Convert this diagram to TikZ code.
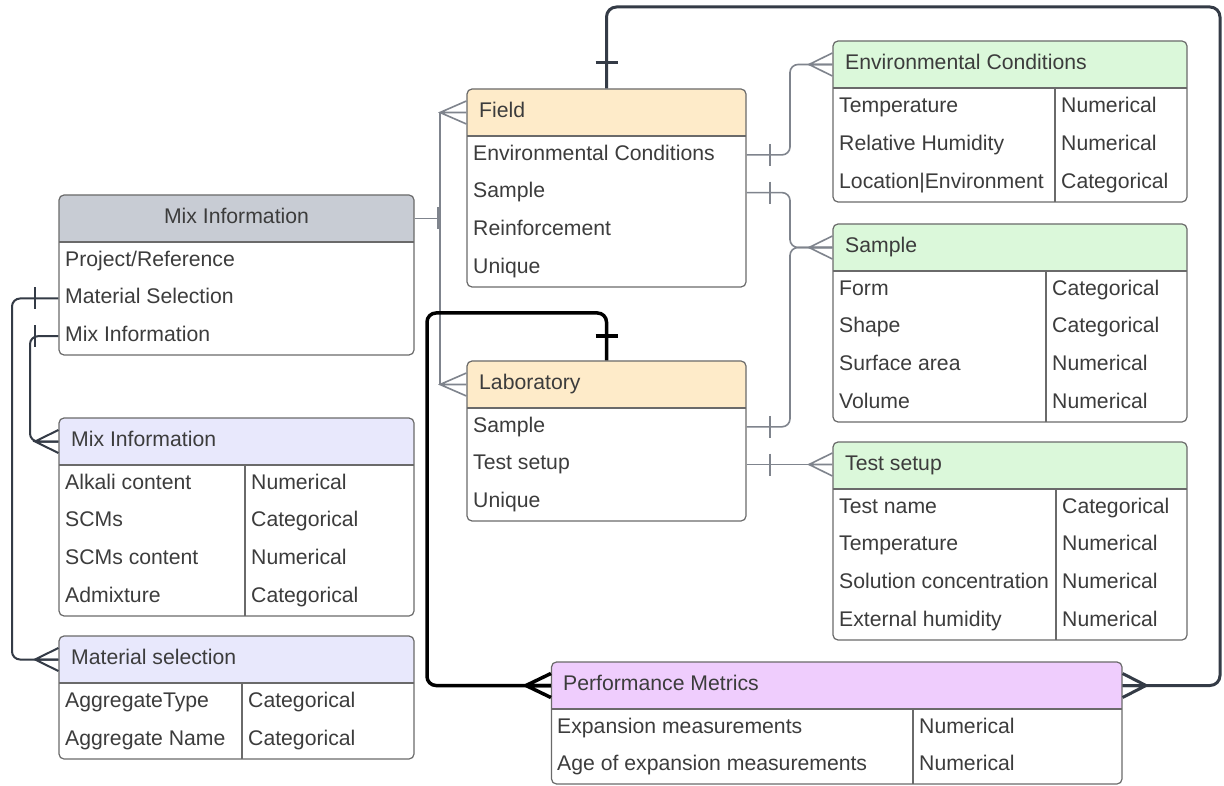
\documentclass[tikz,border=0pt]{standalone}
\usepackage{fontspec}
\setmainfont{Liberation Sans}
\usetikzlibrary{fit,calc}

\definecolor{txt}{HTML}{3C3C3C}
\definecolor{frame}{HTML}{6A6A6A}
\definecolor{hgray}{HTML}{C8CCD4}
\definecolor{hpeach}{HTML}{FEEBC9}
\definecolor{hgreen}{HTML}{DBF8DA}
\definecolor{hlav}{HTML}{E8E8FC}
\definecolor{hpurp}{HTML}{EFCDFD}
\definecolor{lgray}{HTML}{7F848D}
\definecolor{dslate}{HTML}{343B46}

\tikzset{
  erframe/.style={draw=frame, line width=1.2pt, rounded corners=5pt, inner sep=0pt},
  erline/.style={draw=frame, line width=1.2pt},
  cell/.style={anchor=west, inner sep=0pt, text height=15pt, text depth=4.5pt,
    text=txt, font=\fontsize{21.2}{25}\selectfont},
  lnkgray/.style={draw=lgray, line width=1.6pt, rounded corners=8pt},
  lnkdark/.style={draw=dslate, line width=2pt, rounded corners=8pt},
  lnktop/.style={draw=dslate, line width=3pt, rounded corners=10pt},
  lnkblk/.style={draw=black, line width=3.5pt, rounded corners=9pt},
}

% entity box: name, x1, y1, x2, header bottom, y2, header colour
\newcommand\erbox[7]{%
  \fill[#7, rounded corners=5pt] (#2,#3) rectangle (#4,#5);
  \fill[#7] (#2,#3+10) rectangle (#4,#5);
  \node[erframe, fit={(#2,#3) (#4,#6)}] (#1) {};
  \draw[erline] (#2,#5) -- (#4,#5);
}
% crow's foot: style, vertex, point on the box edge, half spread
\newcommand\crowfoot[4]{%
  \draw[#1, sharp corners] ($#3+(0,-#4)$) -- #2 -- ($#3+(0,#4)$) #2 -- #3;
}
% one-mark bars across a horizontal or a vertical line
\newcommand\vmark[2]{\draw[#1, sharp corners] ($#2+(0,-11)$) -- ($#2+(0,11)$);}
\newcommand\hmark[2]{\draw[#1, sharp corners] ($#2+(-11,0)$) -- ($#2+(11,0)$);}

\begin{document}
\begin{tikzpicture}[x=1pt, y=-1pt]
\useasboundingbox (0,0) rectangle (1224,786);
\fill[white] (0,0) rectangle (1224,786);

% ---------- entity boxes ----------
\erbox{mixmain}{59}{195}{414}{242}{355}{hgray}
\node[cell, anchor=center] (mm-t) at (236.5,218.5) {Mix Information};
\node[cell] (mm-1) at (65,260.8) {Project/Reference};
\node[cell] (mm-2) at (65,298.5) {Material Selection};
\node[cell] (mm-3) at (65,336.2) {Mix Information};

\erbox{field}{467}{89}{746}{136}{287}{hpeach}
\node[cell] (fld-t) at (479,112.5) {Field};
\node[cell] (fld-1) at (473,154.9) {Environmental Conditions};
\node[cell] (fld-2) at (473,192.6) {Sample};
\node[cell] (fld-3) at (473,230.4) {Reinforcement};
\node[cell] (fld-4) at (473,268.1) {Unique};

\erbox{lab}{467}{361}{746}{408}{521}{hpeach}
\node[cell] (lab-t) at (479,384.5) {Laboratory};
\node[cell] (lab-1) at (473,426.8) {Sample};
\node[cell] (lab-2) at (473,464.5) {Test setup};
\node[cell] (lab-3) at (473,502.2) {Unique};

\erbox{env}{833}{41}{1187}{88}{202}{hgreen}
\draw[erline] (1055,88) -- (1055,202);
\node[cell] (env-t) at (845,64.5) {Environmental Conditions};
\node[cell] (env-1) at (839,107) {Temperature};
\node[cell] (env-2) at (839,145) {Relative Humidity};
\node[cell] (env-3) at (839,183) {Location|Environment};
\node[cell] (env-1b) at (1061,107) {Numerical};
\node[cell] (env-2b) at (1061,145) {Numerical};
\node[cell] (env-3b) at (1061,183) {Categorical};

\erbox{sample}{833}{224}{1187}{271}{422}{hgreen}
\draw[erline] (1046,271) -- (1046,422);
\node[cell] (smp-t) at (845,247.5) {Sample};
\node[cell] (smp-1) at (839,289.9) {Form};
\node[cell] (smp-2) at (839,327.6) {Shape};
\node[cell] (smp-3) at (839,365.4) {Surface area};
\node[cell] (smp-4) at (839,403.1) {Volume};
\node[cell] (smp-1b) at (1052,289.9) {Categorical};
\node[cell] (smp-2b) at (1052,327.6) {Categorical};
\node[cell] (smp-3b) at (1052,365.4) {Numerical};
\node[cell] (smp-4b) at (1052,403.1) {Numerical};

\erbox{test}{833}{442}{1187}{489}{640}{hgreen}
\draw[erline] (1056,489) -- (1056,640);
\node[cell] (tst-t) at (845,465.5) {Test setup};
\node[cell] (tst-1) at (839,507.9) {Test name};
\node[cell] (tst-2) at (839,545.6) {Temperature};
\node[cell] (tst-3) at (839,583.4) {Solution concentration};
\node[cell] (tst-4) at (839,621.1) {External humidity};
\node[cell] (tst-1b) at (1062,507.9) {Categorical};
\node[cell] (tst-2b) at (1062,545.6) {Numerical};
\node[cell] (tst-3b) at (1062,583.4) {Numerical};
\node[cell] (tst-4b) at (1062,621.1) {Numerical};

\erbox{mixinfo}{59}{418}{414}{465}{616}{hlav}
\draw[erline] (245,465) -- (245,616);
\node[cell] (mi-t) at (71,441.5) {Mix Information};
\node[cell] (mi-1) at (65,483.9) {Alkali content};
\node[cell] (mi-2) at (65,521.6) {SCMs};
\node[cell] (mi-3) at (65,559.4) {SCMs content};
\node[cell] (mi-4) at (65,597.1) {Admixture};
\node[cell] (mi-1b) at (251,483.9) {Numerical};
\node[cell] (mi-2b) at (251,521.6) {Categorical};
\node[cell] (mi-3b) at (251,559.4) {Numerical};
\node[cell] (mi-4b) at (251,597.1) {Categorical};

\erbox{matsel}{59}{636}{414}{683}{759}{hlav}
\draw[erline] (242,683) -- (242,759);
\node[cell] (ms-t) at (71,659.5) {Material selection};
\node[cell] (ms-1) at (65,702) {AggregateType};
\node[cell] (ms-2) at (65,740) {Aggregate Name};
\node[cell] (ms-1b) at (248,702) {Categorical};
\node[cell] (ms-2b) at (248,740) {Categorical};

\erbox{perf}{551.5}{662}{1122}{709}{784}{hpurp}
\draw[erline] (913,709) -- (913,784);
\node[cell] (pf-t) at (563,685.5) {Performance Metrics};
\node[cell] (pf-1) at (557,727.8) {Expansion measurements};
\node[cell] (pf-2) at (557,765.3) {Age of expansion measurements};
\node[cell] (pf-1b) at (919,727.8) {Numerical};
\node[cell] (pf-2b) at (919,765.3) {Numerical};

% ---------- guide columns and rows for the connectors ----------
\coordinate (xfork) at (440,0);
\coordinate (xforkbar) at (438,0);
\coordinate (xright) at (790,0);
\coordinate (xrbar) at (770,0);
\coordinate (xrcrow) at (809,0);
\coordinate (xl1) at (12,0);
\coordinate (xl2) at (30,0);
\coordinate (xlmark) at (35,0);
\coordinate (xfar) at (1220,0);
\coordinate (xfarcrow) at (1146,0);
\coordinate (xlab) at (427,0);
\coordinate (xlabcrow) at (526,0);
\coordinate (ytop) at (0,7);
\coordinate (ytopbar) at (0,63);
\coordinate (ylab) at (0,313);
\coordinate (ylabbar) at (0,336);

% ---------- Mix Information -> Field / Laboratory ----------
\draw[lnkgray] (mixmain.east |- mm-t) -- (mm-t -| xfork);
\draw[lnkgray, sharp corners] (fld-t -| xfork) -- (lab-t -| xfork);
\vmark{lnkgray}{(mm-t -| xforkbar)}
\crowfoot{lnkgray}{(fld-t -| xfork)}{(field.west |- fld-t)}{11.5}
\crowfoot{lnkgray}{(lab-t -| xfork)}{(lab.west |- lab-t)}{11.5}

% ---------- Field / Laboratory -> right-hand entities ----------
\draw[lnkgray] (field.east |- fld-1) -- (fld-1 -| xright) -- (env-t -| xright) -- (env.west |- env-t);
\vmark{lnkgray}{(fld-1 -| xrbar)}
\crowfoot{lnkgray}{(env-t -| xrcrow)}{(env.west |- env-t)}{11.5}

\draw[lnkgray] (field.east |- fld-2) -- (fld-2 -| xright) -- (smp-t -| xright) -- (sample.west |- smp-t);
\vmark{lnkgray}{(fld-2 -| xrbar)}
\draw[lnkgray] (lab.east |- lab-1) -- (lab-1 -| xright) -- (smp-t -| xright) -- (sample.west |- smp-t);
\vmark{lnkgray}{(lab-1 -| xrbar)}
\crowfoot{lnkgray}{(smp-t -| xrcrow)}{(sample.west |- smp-t)}{11.5}

\draw[lnkgray] (lab.east |- lab-2) -- (lab-2 -| test.west);
\vmark{lnkgray}{(lab-2 -| xrbar)}
\crowfoot{lnkgray}{(lab-2 -| xrcrow)}{(lab-2 -| test.west)}{11.5}

% ---------- Mix Information -> Material selection / Mix Information ----------
\draw[lnkdark] (mixmain.west |- mm-2) -- (mm-2 -| xl1) -- (ms-t -| xl1) -- (matsel.west |- ms-t);
\vmark{lnkdark}{(mm-2 -| xlmark)}
\crowfoot{lnkdark}{(ms-t -| xlmark)}{(matsel.west |- ms-t)}{11.5}

\draw[lnkdark] (mixmain.west |- mm-3) -- (mm-3 -| xl2) -- (mi-t -| xl2) -- (mixinfo.west |- mi-t);
\vmark{lnkdark}{(mm-3 -| xlmark)}
\crowfoot{lnkdark}{(mi-t -| xlmark)}{(mixinfo.west |- mi-t)}{11.5}

% ---------- Field -> Performance Metrics (outer loop) ----------
\draw[lnktop] (field.north) -- (field.north |- ytop) -- (ytop -| xfar) -- (pf-t -| xfar) -- (perf.east |- pf-t);
\hmark{lnktop}{(field.north |- ytopbar)}
\crowfoot{lnktop}{(pf-t -| xfarcrow)}{(perf.east |- pf-t)}{12}

% ---------- Laboratory -> Performance Metrics ----------
\draw[lnkblk] (lab.north) -- (lab.north |- ylab) -- (ylab -| xlab) -- (pf-t -| xlab) -- (perf.west |- pf-t);
\hmark{lnkblk}{(lab.north |- ylabbar)}
\crowfoot{lnkblk}{(pf-t -| xlabcrow)}{(perf.west |- pf-t)}{12}
\end{tikzpicture}
\end{document}
